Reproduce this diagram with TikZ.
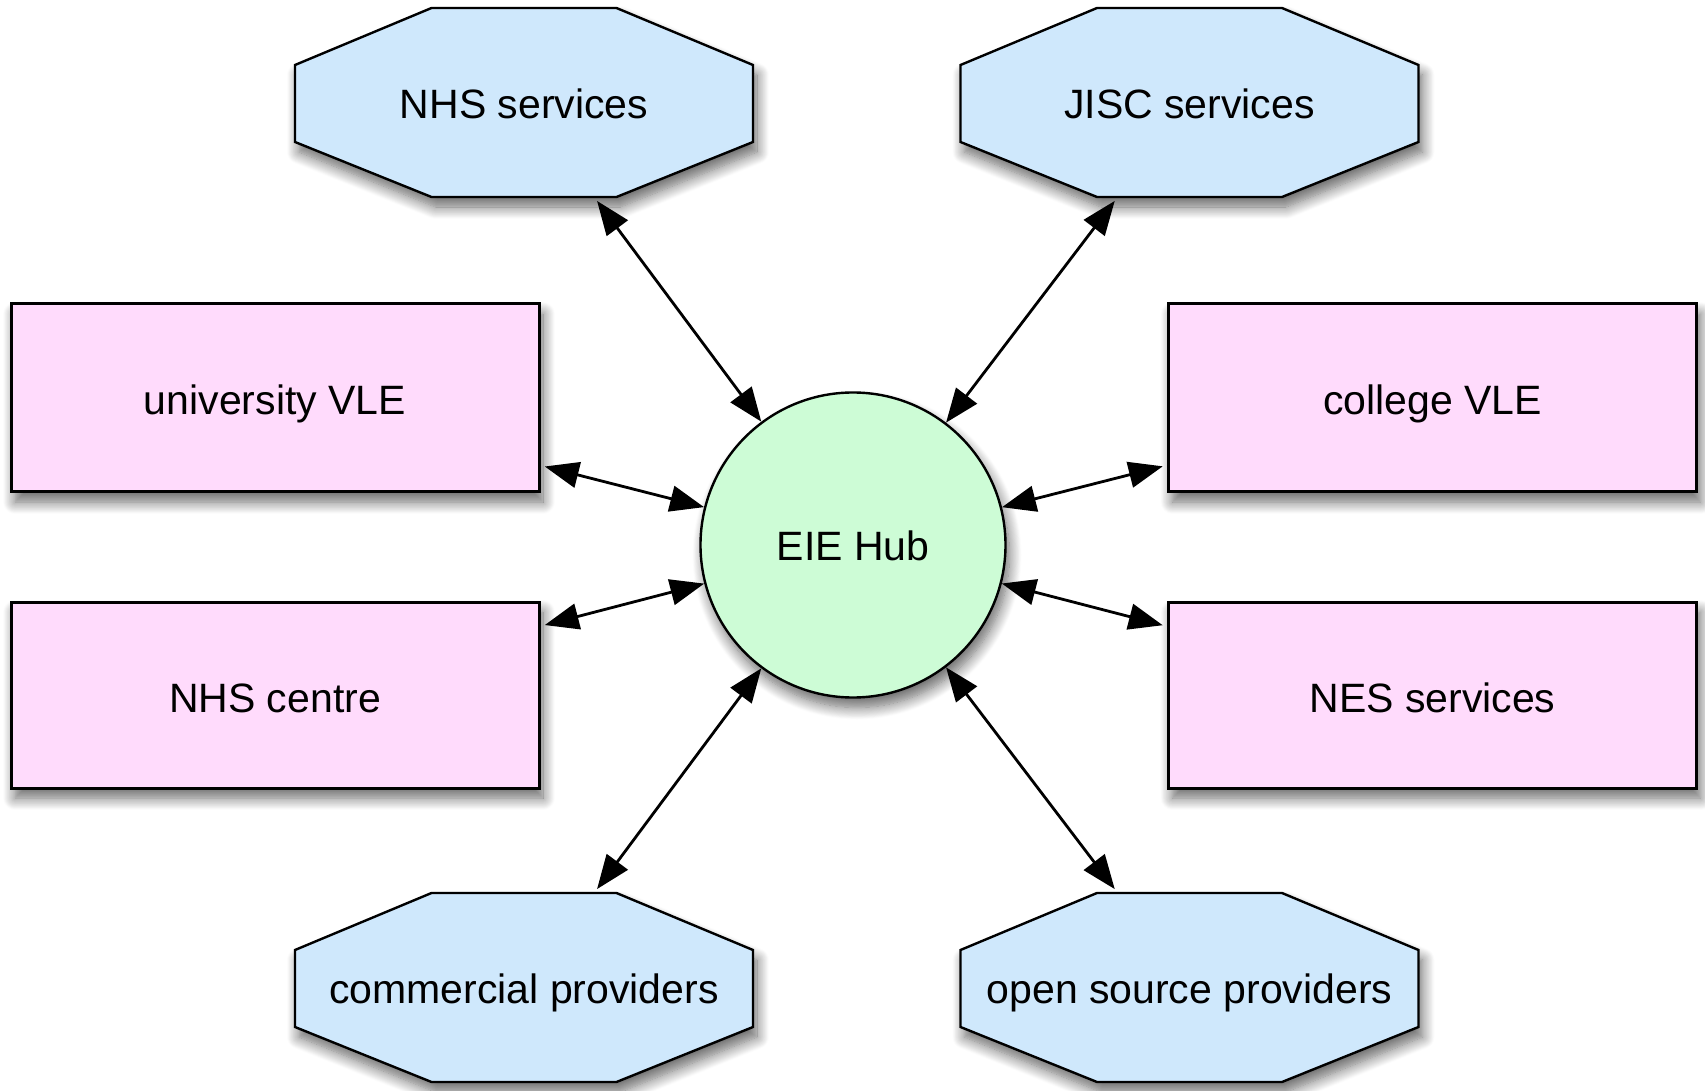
\documentclass[tikz,border=0pt]{standalone}
\usepackage{fontspec}
\setmainfont{Liberation Sans}
\usetikzlibrary{shadows.blur,arrows.meta}
\definecolor{octblue}{RGB}{207,232,252}
\definecolor{rectpink}{RGB}{255,219,252}
\definecolor{hubgreen}{RGB}{205,252,214}
\tikzset{
  sh/.style={blur shadow={shadow xshift=2pt,shadow yshift=-5pt,shadow blur radius=6pt,shadow blur steps=14,shadow opacity=60}},
  octa/.style={draw=black,line width=1.2pt,fill=octblue,sh,line join=miter},
  octtext/.style={draw=none,inner sep=0pt,minimum width=229pt,minimum height=94.5pt,text height=15.6pt,text depth=0pt,font=\fontsize{20.5}{24}\selectfont},
  boxnode/.style={draw=black,line width=1.5pt,fill=rectpink,sh,inner sep=0pt,minimum width=264pt,text height=17pt,text depth=0pt,font=\fontsize{20.5}{24}\selectfont},
  hubnode/.style={circle,draw=black,line width=1.2pt,fill=hubgreen,sh,inner sep=0pt,minimum size=152.5pt,text height=15.8pt,text depth=0pt,font=\fontsize{20.5}{24}\selectfont},
  tip/.tip={Triangle[length=17pt,width=13pt]},
  conn/.style={draw=black,line width=1.4pt,tip-tip,shorten <=2.2pt}
}
\newcommand\octanode[4]{%
  \draw[octa] (#2,#3) ++(-92.5,-94.5) -- ++(185,0) -- ++(136.5,57) -- ++(0,77) -- ++(-136.5,55) -- ++(-185,0) -- ++(-136.5,-55) -- ++(0,-77) -- cycle;
  \node[octtext] (#1) at (#2,#3) {#4};}
\begin{document}
\begin{tikzpicture}[x=0.5pt,y=-0.5pt]
\useasboundingbox (0,0) rectangle (1705,1091);
\octanode{nhss}{524}{102.5}{NHS services}
\octanode{jisc}{1189.5}{102.5}{JISC services}
\octanode{comm}{524}{987.5}{commercial providers}
\octanode{open}{1189.5}{987.5}{open source providers}
\node[boxnode,minimum height=94pt] (univ) at (275,398) {university VLE};
\node[boxnode,minimum height=93pt] (nhsc) at (275,695) {NHS centre};
\node[boxnode,minimum height=94pt] (coll) at (1432.5,398) {college VLE};
\node[boxnode,minimum height=93pt] (nes) at (1432.5,695) {NES services};
\node[hubnode] (hub) at (853,545) {EIE Hub};
\foreach \n in {nhss,jisc,comm,open,univ,nhsc,coll,nes}{
  \draw[conn] (\n) -- (hub);
}
\end{tikzpicture}
\end{document}
